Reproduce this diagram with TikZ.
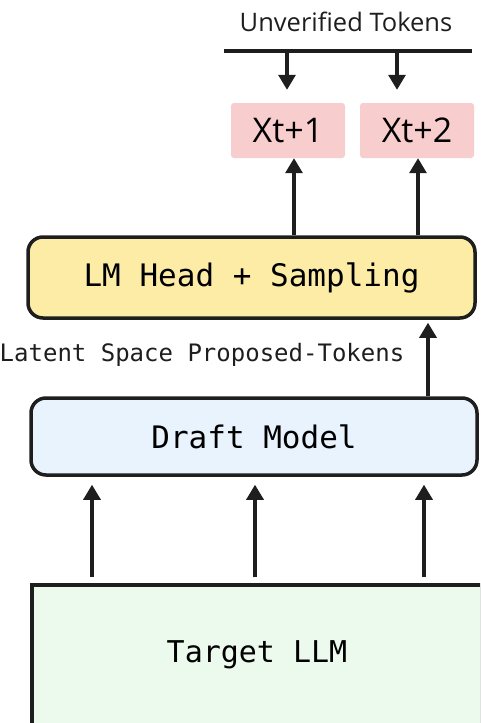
\documentclass[tikz,border=0pt]{standalone}
\usepackage{fontspec}
\setmainfont{Open Sans}
\newfontfamily\handmono{DejaVu Sans Mono}
\definecolor{tokpink}{RGB}{248,205,205}
\definecolor{headyellow}{RGB}{252,236,166}
\definecolor{draftblue}{RGB}{232,243,253}
\definecolor{targetgreen}{RGB}{235,250,237}
\definecolor{inkgray}{RGB}{30,30,30}
\usetikzlibrary{arrows.meta,positioning,calc}
\tikzset{
  arr/.style={-{Triangle[length=15pt,width=17pt]},line width=3.2pt,inkgray},
  tokbox/.style={fill=tokpink,rounded corners=3pt,minimum width=114pt,minimum height=55pt,
    inner sep=0pt,font=\fontsize{34}{38}\selectfont},
  stagebox/.style={draw=inkgray,line width=3.5pt,rounded corners=15pt,minimum width=446pt,
    inner sep=0pt,font=\handmono\fontsize{31}{36}\selectfont},
  sidelab/.style={font=\handmono\fontsize{24}{28}\selectfont,inkgray},
}

\begin{document}
\begin{tikzpicture}[x=1pt,y=-1pt]
  \useasboundingbox (0,0) rectangle (480,723);
  \clip (0,0) rectangle (480,723);
  % token outputs
  \node[tokbox] (x1) at (288,130.5) {Xt+1};
  \node[tokbox] (x2) at (417,130.5) {Xt+2};
  \coordinate (barL) at (224,51);
  \coordinate (barR) at (472,51);
  \draw[line width=3.2pt,inkgray] (barL) -- (barR);
  \node[font=\fontsize{25.5}{30}\selectfont,inkgray] (unv) at (346,22) {Unverified Tokens};
  \coordinate (b1) at (287,51);
  \coordinate (b2) at (397,51);
  \draw[arr,shorten >=13pt] (b1) -- (b1 |- x1.north);
  \draw[arr,shorten >=13pt] (b2) -- (b2 |- x2.north);
  % stages
  \node[stagebox,fill=headyellow,minimum width=447pt,minimum height=81pt] (lm) at (251.5,277.5) {LM Head + Sampling};
  \node[stagebox,fill=draftblue,minimum height=77pt] (draft) at (254,436.5) {Draft Model};
  \node[draw=inkgray,line width=3.5pt,fill=targetgreen,minimum width=450pt,minimum height=140pt,
    font=\handmono\fontsize{30}{34}\selectfont] (tgt) at (257,655) {Target LLM};
  \node[sidelab] (lat) at (202,355) {Latent Space Proposed-Tokens};
  % connectors
  \path (lm.north) ++(42.5,0) coordinate (l1);
  \path (lm.north) ++(166.5,0) coordinate (l2);
  \draw[arr] (l1) -- (l1 |- x1.south);
  \draw[arr] (l2) -- (l2 |- x2.south);
  \path (draft.north) ++(174,0) coordinate (d1);
  \draw[arr,shorten >=3pt] (d1) -- (d1 |- lm.south);
  \foreach \dx [count=\i] in {-165,-2,167} {
    \path (tgt.north) ++(\dx,-6) coordinate (t\i);
    \draw[arr,shorten >=8pt] (t\i) -- (t\i |- draft.south);
  }
\end{tikzpicture}
\end{document}
